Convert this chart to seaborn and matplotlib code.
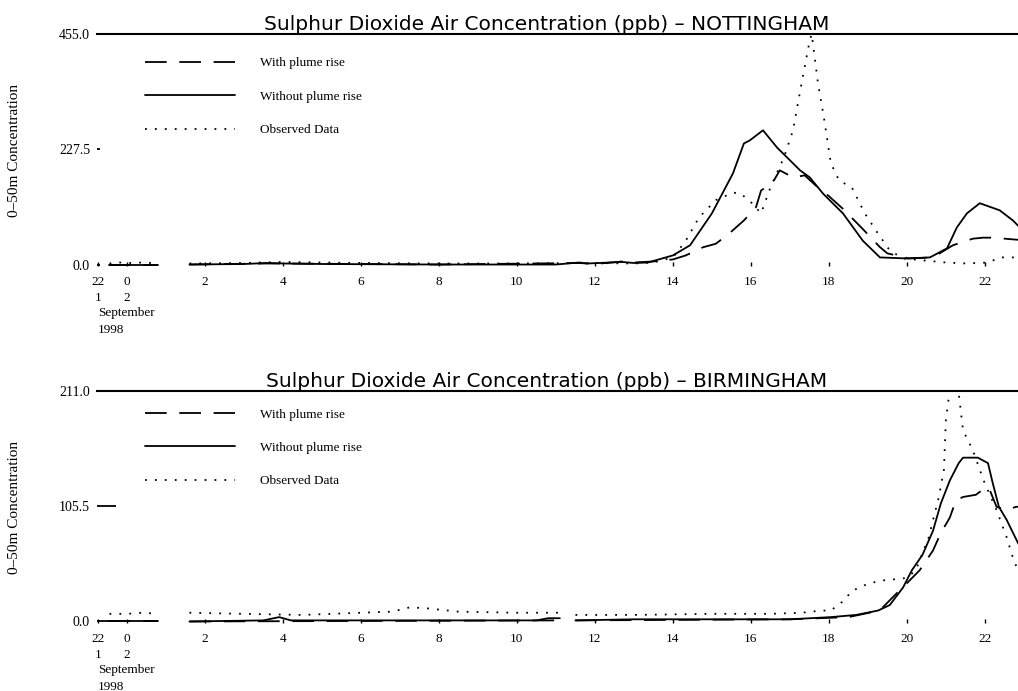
import numpy as np
import pandas as pd
import matplotlib
matplotlib.use("Agg")
import matplotlib.pyplot as plt
import seaborn as sns

# hours after midnight, 2 September 1998 (None = break in the record)
series_names = ['With plume rise', 'Without plume rise', 'Observed Data']

# --- NOTTINGHAM ---
nott_with_h = [-0.45, 0.8, None, 1.6, 3.5, 4.0, 8.0, 11.6, 12.0, 12.7, 13.0, 13.5, 14.0,
               14.33, 14.77, 15.1, 15.44, 15.82, 16.13, 16.26, 16.56, 16.74, 17.08, 17.38,
               17.72, 18.0, 18.36, 18.87, 19.3, 19.5, 20.05, 20.67, 21.18, 21.5, 21.69,
               21.95, 22.2, 22.82, 23.0]
nott_with_v = [0, 0, None, 0, 2, 2, 0, 3, 1, 6, 4, 6, 10,
               18, 34, 41, 61, 87, 113, 146, 162, 186, 172, 176,
               152, 135, 110, 70, 35, 22, 12, 14, 38, 46, 51,
               53, 53, 49, 49]

nott_without_h = [-0.45, 0.8, None, 1.6, 3.0, 3.6, 4.0, 5.0, 8.0, 11.0, 11.6, 11.8, 12.7,
                  13.0, 13.36, 14.0, 14.44, 15.0, 15.54, 15.82, 15.97, 16.31, 16.67, 16.92,
                  17.26, 17.51, 17.85, 18.36, 18.87, 19.31, 20.0, 20.59, 21.03, 21.28, 21.54,
                  21.87, 22.38, 22.72, 23.0]
nott_without_v = [0, 0, None, 0, 1, 3, 2, 1, 0, 0, 4, 2, 5,
                  3, 4, 18, 38, 101, 180, 239, 245, 265, 231, 212,
                  186, 172, 140, 101, 47, 14, 12, 14, 32, 73, 101,
                  121, 107, 87, 65]

nott_obs_h = [-0.45, -0.2, 0.1, 0.4, 0.8, None, 1.6, 3.0, 4.0, 6.0, 8.0, 10.0, 12.0,
              13.0, 13.5, 14.0, 14.33, 14.67, 15.1, 15.54, 15.74, 16.03, 16.26, 16.5,
              16.85, 17.08, 17.3, 17.51, 17.56, 17.72, 17.87, 18.05, 18.26, 18.59, 18.92,
              19.26, 19.56, 19.9, 20.44, 21.0, 21.54, 22.08, 22.4, 22.8, 23.0]
nott_obs_v = [2, 4, 3, 4, 2, None, 2, 3, 5, 3, 2, 2, 3,
              2, 4, 14, 47, 93, 127, 142, 140, 121, 101, 152,
              212, 265, 358, 443, 455, 358, 291, 200, 166, 152, 101,
              61, 28, 12, 8, 4, 2, 4, 14, 14, 14]

# --- BIRMINGHAM ---
birm_with_h = [-0.45, 0.8, None, 1.6, 11.1, None, 11.5, 17.0, 18.5, 19.3, 19.8, 20.0,
               20.33, 20.67, 20.87, 21.1, 21.26, 21.44, 21.77, 22.03, 22.13, 22.3, 22.56,
               22.8, 23.0]
birm_with_v = [0, 0, None, 0, 1, None, 1, 2, 4, 10, 28, 35,
               47, 65, 81, 95, 111, 114, 116, 123, 120, 105, 102,
               105, 105]

birm_without_h = [-0.45, 0.8, None, 1.6, 3.5, 3.9, 4.2, 7.0, 10.5, 10.8, 11.1, None, 11.5,
                  13.0, 15.0, 17.0, 18.05, 18.7, 19.26, 19.56, 19.9, 20.13, 20.4, 20.67,
                  20.87, 21.1, 21.33, 21.44, 21.82, 22.08, 22.2, 22.36, 22.56, 22.82, 23.0]
birm_without_v = [0, 0, None, 0, 1, 4, 1, 1, 1, 3, 3, None, 1,
                  2, 2, 2, 4, 6, 10, 15, 31, 47, 61, 83,
                  108, 129, 145, 150, 150, 145, 127, 105, 93, 74, 62]

birm_obs_h = [-0.45, 0.0, 0.4, 0.8, None, 1.6, 3.0, 4.5, 6.0, 6.8, 7.26, 7.7, 8.5, 10.0,
              11.1, None, 11.5, 13.0, 15.0, 16.5, 17.3, 17.8, 18.05, 18.38, 18.59, 19.03,
              19.46, 19.8, 20.0, 20.23, 20.56, 20.82, 20.95, 21.0, 21.2, 21.33, 21.44,
              21.69, 21.97, 22.3, 22.56, 22.74, 23.0]
birm_obs_v = [7, 7, 8, 7, None, 8, 7, 6, 8, 9, 13, 12, 9, 8,
              8, None, 6, 6, 7, 7, 8, 10, 10, 19, 28, 35,
              38, 39, 40, 47, 77, 114, 139, 184, 240, 209, 175,
              157, 129, 102, 77, 56, 35]

x_ticks = [-0.75, 0, 2, 4, 6, 8, 10, 12, 14, 16, 18, 20, 22]
x_labels = ['22\n1', '0\n2', '2', '4', '6', '8', '10', '12', '14', '16', '18', '20', '22']


def to_frame(parts):
    rows = []
    for name, hrs, vals in parts:
        seg = 0
        for h, v in zip(hrs, vals):
            if h is None:
                seg += 1
                continue
            rows.append((name, seg, h, v))
    return pd.DataFrame(rows, columns=['series', 'segment', 'hour', 'ppb'])


nott = to_frame([(series_names[0], nott_with_h, nott_with_v),
                 (series_names[1], nott_without_h, nott_without_v),
                 (series_names[2], nott_obs_h, nott_obs_v)])
birm = to_frame([(series_names[0], birm_with_h, birm_with_v),
                 (series_names[1], birm_without_h, birm_without_v),
                 (series_names[2], birm_obs_h, birm_obs_v)])

sns.set_style('white')
plt.rcParams['font.family'] = ['Liberation Serif', 'DejaVu Serif']
plt.rcParams['text.color'] = 'black'
plt.rcParams['axes.labelcolor'] = 'black'
plt.rcParams['xtick.color'] = 'black'
plt.rcParams['ytick.color'] = 'black'

fig = plt.figure(figsize=(10.18, 6.91), dpi=100)
ax1 = fig.add_axes([0.0953, 0.6150, 0.9047, 0.3357])
ax2 = fig.add_axes([0.0953, 0.0984, 0.9047, 0.3357])

dash_map = {series_names[0]: (12, 7), series_names[1]: '', series_names[2]: (1, 4.5)}

panels = [
    (ax1, nott, 455, ['0.0', '227.5', '455.0'], 'NOTTINGHAM', 0.90, 2),
    (ax2, birm, 211, ['0.0', '105.5', '211.0'], 'BIRMINGHAM', 0.925, 14),
]

for ax, df, ymax, ylabs, city, leg_y, ytick_len in panels:
    sns.lineplot(data=df, x='hour', y='ppb', style='series', style_order=series_names,
                 units='segment', estimator=None, sort=False, color='black',
                 dashes=dash_map, linewidth=1.3, ax=ax)

    ax.set_xlim(-0.77, 22.85)
    ax.set_ylim(-ymax * 0.0066, ymax)
    ax.set_yticks([0, ymax / 2, ymax])
    ax.set_yticklabels(ylabs, fontsize=10)
    ax.set_xticks(x_ticks)
    ax.set_xticklabels(x_labels, fontsize=9.5)
    for t in ax.get_xticklabels():
        t.set_linespacing(1.5)
        t.set_verticalalignment('top')
    ax.tick_params(axis='x', bottom=True, direction='in', length=3, width=1, pad=7,
                   color='black', labelcolor='black')
    ax.tick_params(axis='y', left=True, direction='in', length=ytick_len, width=1.3,
                   pad=5, color='black', labelcolor='black')

    for side in ['left', 'right', 'bottom']:
        ax.spines[side].set_visible(False)
    ax.spines['top'].set_linewidth(1.5)
    ax.spines['top'].set_color('black')

    ax.set_xlabel('')
    ax.set_ylabel('0–50m Concentration', fontsize=11, color='black')
    ax.yaxis.set_label_coords(-0.083, 0.5)
    ax.set_title('Sulphur Dioxide Air Concentration (ppb) – ' + city,
                 fontsize=14.5, family=['DejaVu Sans'], pad=3, color='black')
    ax.title.set_x(0.488)

    leg = ax.get_legend()
    handles = leg.legend_handles
    labels = [t.get_text() for t in leg.get_texts()]
    leg.remove()
    for h in handles:
        h.set_linewidth(1.3)
        h.set_color('black')
    ax.legend(handles, labels, loc='upper left', bbox_to_anchor=(0.052, leg_y),
              frameon=False, fontsize=9.5, handlelength=6.8, handletextpad=1.9,
              labelspacing=1.6, borderpad=0, borderaxespad=0, labelcolor='black')

    ax.text(0.001, -0.175, 'September\n1998', transform=ax.transAxes, fontsize=9.5,
            ha='left', va='top', linespacing=1.55, color='black')

fig.savefig('out.png', dpi=100)
